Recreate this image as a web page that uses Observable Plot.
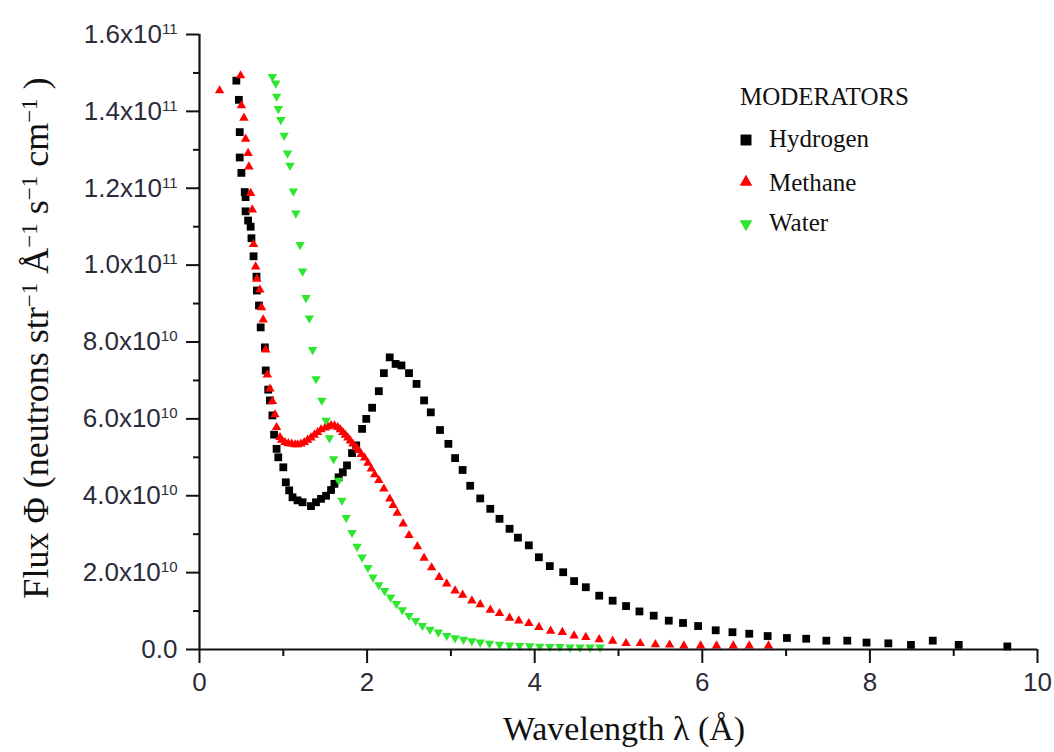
<!DOCTYPE html>
<html>
<head>
<meta charset="utf-8">
<script src="https://cdn.jsdelivr.net/npm/d3@7"></script>
<script src="https://cdn.jsdelivr.net/npm/@observablehq/plot@0.6"></script>
<style>
  html, body { margin: 0; padding: 0; background: #fff; }
  #chart { width: 1054px; height: 752px; }
</style>
</head>
<body>
<div id="chart"></div>
<script>
// ---- Data (wavelength in Å, flux in units of 1e10 neutrons str^-1 Å^-1 s^-1 cm^-1) ----
const hydrogenX = [0.44,0.47,0.48,0.48,0.50,0.54,0.55,0.55,0.58,0.61,0.62,0.645,0.68,0.685,0.71,0.73,0.78,0.79,0.82,0.84,0.87,0.89,0.92,0.94,1.00,1.03,1.07,1.11,1.17,1.23,1.33,1.39,1.45,1.51,1.57,1.61,1.66,1.71,1.76,1.82,1.87,1.94,1.99,2.06,2.14,2.20,2.27,2.34,2.41,2.50,2.59,2.68,2.76,2.87,2.97,3.05,3.14,3.23,3.35,3.47,3.58,3.70,3.80,3.93,4.05,4.18,4.34,4.47,4.61,4.77,4.93,5.09,5.25,5.42,5.60,5.77,5.95,6.16,6.36,6.56,6.78,7.01,7.24,7.48,7.73,7.96,8.22,8.49,8.75,9.06,9.64];
const hydrogenY = [14.8,14.3,13.46,12.8,12.4,11.9,11.77,11.4,11.16,11.0,10.7,10.23,9.7,9.34,8.95,8.38,7.86,7.26,6.76,6.48,6.09,5.59,5.22,5.0,4.74,4.35,4.14,3.96,3.88,3.83,3.73,3.83,3.92,4.0,4.15,4.31,4.48,4.61,4.79,5.11,5.31,5.74,6.0,6.29,6.72,7.19,7.6,7.43,7.39,7.19,6.91,6.48,6.17,5.71,5.35,4.98,4.67,4.26,3.93,3.66,3.40,3.14,2.91,2.71,2.40,2.17,2.01,1.78,1.62,1.40,1.27,1.13,0.99,0.88,0.75,0.69,0.61,0.50,0.45,0.41,0.35,0.30,0.28,0.23,0.23,0.18,0.16,0.12,0.23,0.12,0.08];

const methaneX = [0.24,0.49,0.50,0.53,0.55,0.58,0.59,0.61,0.63,0.645,0.67,0.685,0.72,0.74,0.76,0.79,0.81,0.84,0.87,0.90,0.92,0.96,0.98,1.02,1.06,1.10,1.14,1.17,1.21,1.25,1.29,1.33,1.37,1.41,1.45,1.50,1.53,1.57,1.61,1.65,1.68,1.71,1.74,1.77,1.80,1.83,1.87,1.90,1.93,1.97,2.01,2.05,2.09,2.14,2.20,2.27,2.31,2.36,2.43,2.50,2.60,2.68,2.77,2.86,2.95,3.05,3.14,3.25,3.35,3.47,3.58,3.70,3.81,3.93,4.05,4.19,4.33,4.47,4.61,4.77,4.93,5.09,5.26,5.44,5.61,5.78,5.98,6.17,6.37,6.56,6.79];
const methaneY = [14.54,14.93,14.15,13.83,13.28,12.91,12.56,11.87,11.44,10.54,9.96,9.64,9.36,8.9,8.58,7.8,7.15,6.78,6.46,6.11,5.78,5.52,5.45,5.39,5.36,5.35,5.33,5.33,5.35,5.39,5.45,5.51,5.58,5.65,5.72,5.77,5.80,5.83,5.82,5.78,5.72,5.65,5.58,5.51,5.43,5.35,5.26,5.18,5.08,4.99,4.85,4.70,4.55,4.40,4.18,3.92,3.75,3.55,3.27,2.97,2.68,2.38,2.13,1.88,1.71,1.53,1.42,1.27,1.17,1.03,0.94,0.82,0.75,0.68,0.58,0.48,0.45,0.36,0.32,0.26,0.22,0.16,0.16,0.13,0.12,0.10,0.10,0.10,0.10,0.10,0.10];

const waterX = [0.87,0.91,0.92,0.94,0.97,1.01,1.05,1.08,1.12,1.15,1.20,1.23,1.27,1.31,1.35,1.39,1.46,1.51,1.55,1.60,1.66,1.70,1.75,1.82,1.88,1.94,2.01,2.07,2.14,2.21,2.28,2.35,2.42,2.50,2.58,2.66,2.75,2.85,2.95,3.05,3.15,3.25,3.35,3.46,3.58,3.70,3.82,3.94,4.06,4.18,4.30,4.42,4.54,4.66,4.78];
const waterY = [14.9,14.73,14.39,14.07,13.78,13.37,12.91,12.59,11.92,11.35,10.53,9.84,9.15,8.62,7.8,7.04,6.48,5.96,5.50,4.96,4.40,3.88,3.43,3.04,2.68,2.40,2.13,1.88,1.68,1.53,1.36,1.19,1.03,0.88,0.75,0.62,0.52,0.45,0.36,0.30,0.26,0.22,0.19,0.16,0.13,0.11,0.10,0.09,0.08,0.07,0.07,0.06,0.06,0.06,0.06];

const seriesNames = ["Hydrogen", "Methane", "Water"];
const seriesColors = ["#000000", "#ff0000", "#2ee62e"];
const legendTitle = "MODERATORS";

const xTicksMajor = [0, 2, 4, 6, 8, 10];
const xTicksMinor = [1, 3, 5, 7, 9];
const yTicksMajor = [0, 2, 4, 6, 8, 10, 12, 14, 16];
const yTicksMinor = [1, 3, 5, 7, 9, 11, 13, 15];

// ---- Build tables ----
const zip = (xs, ys) => xs.map((x, i) => ({x, y: ys[i]}));
const hydrogen = zip(hydrogenX, hydrogenY);
const methane = zip(methaneX, methaneY);
const water = zip(waterX, waterY);

// Downward triangle symbol (same size convention as d3.symbolTriangle)
const triangleDown = {
  draw(context, size) {
    const s = Math.sqrt(size / (Math.sqrt(3) * 3));
    context.moveTo(0, 2 * s);
    context.lineTo(-Math.sqrt(3) * s, -s);
    context.lineTo(Math.sqrt(3) * s, -s);
    context.closePath();
  }
};

const yFormat = v => {
  if (v === 0) return "0.0";
  if (v >= 10) return (v / 10).toFixed(1) + "x10^11";
  return v.toFixed(1) + "x10^10";
};

const tickFont = "'Liberation Sans', Arial, sans-serif";
const serifFont = "'Liberation Serif', 'Times New Roman', serif";

const chart = Plot.plot({
  width: 1054,
  height: 752,
  marginLeft: 199,
  marginRight: 17,
  marginTop: 34,
  marginBottom: 103,
  style: {background: "#fff", fontFamily: tickFont},
  x: {domain: [0, 10], label: null},
  y: {domain: [0, 16], label: null},
  marks: [
    Plot.dot(hydrogen, {x: "x", y: "y", symbol: "square", r: 4.4, fill: seriesColors[0], stroke: "none"}),
    Plot.dot(methane, {x: "x", y: "y", symbol: "triangle", r: 3.5, fill: seriesColors[1], stroke: "none"}),
    Plot.dot(water, {x: "x", y: "y", symbol: triangleDown, r: 3.5, fill: seriesColors[2], stroke: "none"}),
    Plot.axisX({ticks: xTicksMajor, tickSize: 14, tickPadding: 9, strokeWidth: 2, stroke: "#111",
      fontSize: 26, fill: "#2b2b3a", tickFormat: d => String(d), label: null}),
    Plot.axisX({ticks: xTicksMinor, tickSize: 7, strokeWidth: 2, stroke: "#111",
      tickFormat: () => "", label: null}),
    Plot.axisY({ticks: yTicksMajor, tickSize: 13, tickPadding: 9, strokeWidth: 2, stroke: "#111",
      fontSize: 26, fill: "#2b2b3a", tickFormat: yFormat, label: null}),
    Plot.axisY({ticks: yTicksMinor, tickSize: 6, strokeWidth: 2, stroke: "#111",
      tickFormat: () => "", label: null}),
    Plot.ruleY([0], {stroke: "#111", strokeWidth: 2.2}),
    Plot.ruleX([0], {stroke: "#111", strokeWidth: 2.2})
  ]
});

document.getElementById("chart").appendChild(chart);

// ---- Superscript exponents in y tick labels ----
const svg = d3.select(chart);
svg.selectAll('g[aria-label="y-axis tick label"] text').each(function () {
  const t = this.textContent;
  const parts = t.split("^");
  if (parts.length === 2) {
    const el = d3.select(this);
    el.text(null);
    el.append("tspan").text(parts[0]);
    el.append("tspan").attr("dy", "-0.6em").style("font-size", "15px").text(parts[1]);
  }
});

// ---- Axis titles ----
svg.append("text")
  .attr("x", 624).attr("y", 740)
  .attr("text-anchor", "middle")
  .style("font-family", serifFont).style("font-size", "34px").attr("fill", "#111")
  .text("Wavelength λ (Å)");

const yt = svg.append("text")
  .attr("transform", "translate(48,338) rotate(-90)")
  .attr("text-anchor", "middle")
  .style("font-family", serifFont).style("font-size", "36px").attr("fill", "#111");
const yParts = [["Flux Φ (neutrons str", false], ["−1", true], [" Å", false], ["−1", true], [" s", false], ["−1", true], [" cm", false], ["−1", true], [" )", false]];
let up = false;
yParts.forEach(([txt, sup]) => {
  const ts = yt.append("tspan").text(txt).style("font-family", serifFont);
  if (sup) ts.style("font-size", "23px");
  if (sup && !up) { ts.attr("dy", "-0.5em"); up = true; }
  else if (!sup && up) { ts.attr("dy", "0.32em"); up = false; }
});

// ---- Legend ----
const legend = svg.append("g").attr("text-anchor", "start");
legend.append("text").attr("x", 740).attr("y", 105)
  .style("font-family", serifFont).style("font-size", "25px").attr("fill", "#111")
  .text(legendTitle);
const legendSymbols = [d3.symbolSquare, d3.symbolTriangle, triangleDown];
const legendSizes = [120, 70, 70];
const legendRows = [140, 182, 224];
const legendBase = [147, 191, 231];
seriesNames.forEach((name, i) => {
  legend.append("path")
    .attr("transform", `translate(746,${legendRows[i]})`)
    .attr("d", d3.symbol().type(legendSymbols[i]).size(legendSizes[i])())
    .attr("fill", seriesColors[i]);
  legend.append("text").attr("x", 769).attr("y", legendBase[i])
    .style("font-family", serifFont).style("font-size", "25px").attr("fill", "#111")
    .text(name);
});
</script>
</body>
</html>
